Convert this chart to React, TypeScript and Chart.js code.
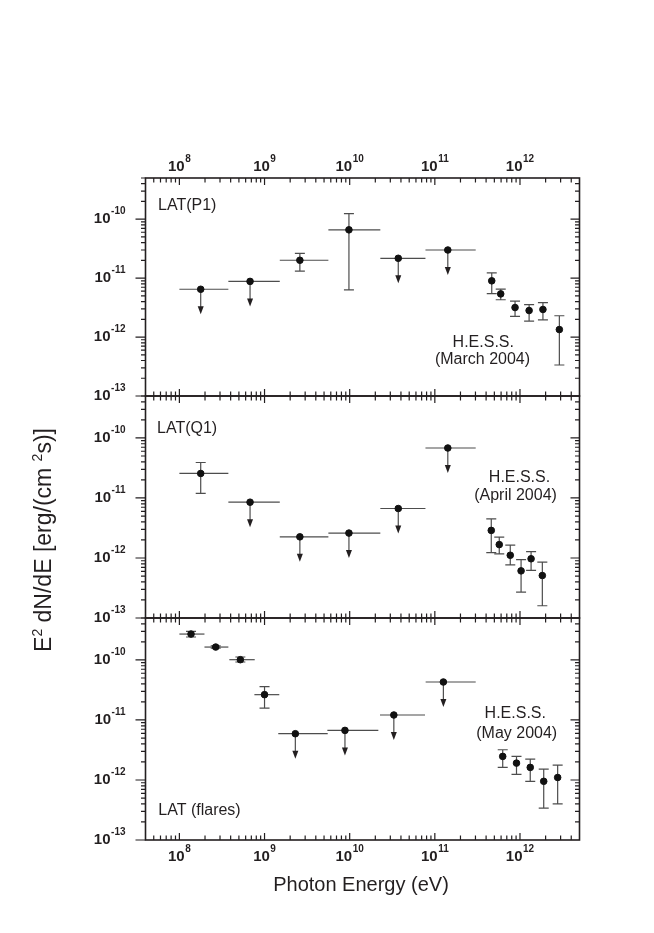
import React, { useEffect, useRef } from 'react';
import { Chart, registerables } from 'chart.js';

Chart.register(...registerables);

const W = 654;
const H = 933;

// ---------- axes ----------
const xMinE = 4e7;
const xMaxE = 5e12;
const yMinF = 1e-13;
const yMaxF = 5e-10;
const xDecades = [8, 9, 10, 11, 12];
const yDecades = [-13, -12, -11, -10];

// ---------- LAT energy bins (P1 and Q1) ----------
const latE = [1.78e8, 6.76e8, 2.6e9, 9.8e9, 3.72e10, 1.42e11];
const latBinLo = [1.0e8, 3.76e8, 1.51e9, 5.62e9, 2.29e10, 7.76e10];
const latBinHi = [3.76e8, 1.51e9, 5.62e9, 2.29e10, 7.76e10, 3.02e11];

// ---------- Panel 1: LAT(P1) + H.E.S.S. March 2004 ----------
const p1Flux = [6.47e-12, 8.8e-12, 2.01e-11, 6.6e-11, 2.17e-11, 3.0e-11];
const p1ErrLo = [null, null, 1.31e-11, 6.3e-12, null, null];
const p1ErrHi = [null, null, 2.64e-11, 1.24e-10, null, null];
const p1Upper = [true, true, false, false, true, true];

const hessMarE = [4.66e11, 5.94e11, 8.75e11, 1.28e12, 1.86e12, 2.9e12];
const hessMarFlux = [9.0e-12, 5.4e-12, 3.17e-12, 2.82e-12, 2.94e-12, 1.34e-12];
const hessMarLo = [5.46e-12, 4.3e-12, 2.24e-12, 1.87e-12, 1.95e-12, 3.36e-13];
const hessMarHi = [1.23e-11, 6.5e-12, 4.06e-12, 3.56e-12, 3.85e-12, 2.3e-12];

// ---------- Panel 2: LAT(Q1) + H.E.S.S. April 2004 ----------
const q1Flux = [2.56e-11, 8.5e-12, 2.25e-12, 2.6e-12, 6.67e-12, 6.8e-11];
const q1ErrLo = [1.19e-11, null, null, null, null, null];
const q1ErrHi = [3.9e-11, null, null, null, null, null];
const q1Upper = [false, true, true, true, true, true];

const hessAprE = [4.6e11, 5.71e11, 7.69e11, 1.03e12, 1.35e12, 1.83e12];
const hessAprFlux = [2.88e-12, 1.67e-12, 1.11e-12, 6.1e-13, 9.7e-13, 5.1e-13];
const hessAprLo = [1.23e-12, 1.17e-12, 7.7e-13, 2.7e-13, 6.2e-13, 1.6e-13];
const hessAprHi = [4.48e-12, 2.23e-12, 1.64e-12, 9.4e-13, 1.28e-12, 8.5e-13];

// ---------- Panel 3: LAT (flares) + H.E.S.S. May 2004 ----------
const flareE = [1.37e8, 2.67e8, 5.2e8, 1.0e9, 2.3e9, 8.8e9, 3.3e10, 1.26e11];
const flareBinLo = [1.0e8, 1.97e8, 3.86e8, 7.6e8, 1.45e9, 5.47e9, 2.27e10, 7.8e10];
const flareBinHi = [1.97e8, 3.76e8, 7.67e8, 1.49e9, 5.52e9, 2.17e10, 7.67e10, 3.02e11];
const flareFlux = [2.7e-10, 1.64e-10, 1.01e-10, 2.64e-11, 5.9e-12, 6.7e-12, 1.21e-11, 4.29e-11];
const flareErrLo = [2.41e-10, 1.57e-10, 9.25e-11, 1.58e-11, null, null, null, null];
const flareErrHi = [2.99e-10, 1.71e-10, 1.12e-10, 3.6e-11, null, null, null, null];
const flareUpper = [false, false, false, false, true, true, true, true];

const hessMayE = [6.27e11, 9.1e11, 1.32e12, 1.9e12, 2.77e12];
const hessMayFlux = [2.47e-12, 1.91e-12, 1.62e-12, 9.5e-13, 1.1e-12];
const hessMayLo = [1.62e-12, 1.24e-12, 9.5e-13, 3.4e-13, 4.0e-13];
const hessMayHi = [3.19e-12, 2.47e-12, 2.23e-12, 1.52e-12, 1.77e-12];

// ---------- styles ----------
const FONT = '"Liberation Sans", Arial, Helvetica, sans-serif';
const INK = '#231f20';
const BAR = '#4d4d4d';
const FRAME_L = 145.5;
const FRAME_R = 579.5;

function buildLogTicks(min: number, max: number, decades: number[]) {
  const ticks: { value: number; major: boolean }[] = [];
  for (let e = decades[0] - 1; e <= decades[decades.length - 1]; e++) {
    for (let m = 1; m <= 9; m++) {
      const v = m * Math.pow(10, e);
      if (v >= min * 0.9999 && v <= max * 1.0001) ticks.push({ value: v, major: m === 1 });
    }
  }
  return ticks;
}

function drawPow(ctx: CanvasRenderingContext2D, exp: number, x: number, y: number, align: 'center' | 'right') {
  const base = '10';
  const sup = String(exp);
  ctx.font = `bold 15px ${FONT}`;
  const wb = ctx.measureText(base).width;
  ctx.font = `bold 10px ${FONT}`;
  const ws = ctx.measureText(sup).width;
  const total = wb + 0.5 + ws;
  const left = align === 'center' ? x - total / 2 : x - total;
  ctx.textAlign = 'left';
  ctx.textBaseline = 'middle';
  ctx.font = `bold 15px ${FONT}`;
  ctx.fillText(base, left, y);
  ctx.font = `bold 10px ${FONT}`;
  ctx.fillText(sup, left + wb + 0.5, y - 7.5);
}

const decorPlugin = {
  id: 'panelDecor',
  beforeDatasetsDraw(chart: any) {
    const ctx: CanvasRenderingContext2D = chart.ctx;
    const xs = chart.scales.x;
    const ys = chart.scales.y;
    ctx.save();
    ctx.lineWidth = 1.2;
    ctx.strokeStyle = BAR;
    ctx.fillStyle = INK;
    chart.data.datasets.forEach((ds: any) => {
      ds.data.forEach((pt: any, i: number) => {
        const px = xs.getPixelForValue(pt.x);
        const py = ys.getPixelForValue(pt.y);
        if (ds.binLo) {
          ctx.beginPath();
          ctx.moveTo(xs.getPixelForValue(ds.binLo[i]), py);
          ctx.lineTo(xs.getPixelForValue(ds.binHi[i]), py);
          ctx.stroke();
        }
        if (ds.errLo && ds.errLo[i] != null) {
          const yl = ys.getPixelForValue(ds.errLo[i]);
          const yh = ys.getPixelForValue(ds.errHi[i]);
          const cw = 5;
          ctx.beginPath();
          ctx.moveTo(px, yh);
          ctx.lineTo(px, yl);
          ctx.moveTo(px - cw, yh);
          ctx.lineTo(px + cw, yh);
          ctx.moveTo(px - cw, yl);
          ctx.lineTo(px + cw, yl);
          ctx.stroke();
        }
        if (ds.upper && ds.upper[i]) {
          const len = 25;
          const tip = py + len;
          ctx.beginPath();
          ctx.moveTo(px, py);
          ctx.lineTo(px, tip - 6);
          ctx.stroke();
          ctx.beginPath();
          ctx.moveTo(px, tip);
          ctx.lineTo(px - 3, tip - 8);
          ctx.lineTo(px + 3, tip - 8);
          ctx.closePath();
          ctx.fill();
        }
      });
    });
    ctx.restore();
  },
  afterDraw(chart: any, _args: any, opts: any) {
    const ctx: CanvasRenderingContext2D = chart.ctx;
    const xs = chart.scales.x;
    const ys = chart.scales.y;
    const a = chart.chartArea;
    ctx.save();
    ctx.strokeStyle = INK;
    ctx.fillStyle = INK;
    // frame
    ctx.lineWidth = 1.6;
    ctx.strokeRect(a.left, a.top, a.right - a.left, a.bottom - a.top);
    // x ticks (inward, top and bottom)
    ctx.lineWidth = 1.2;
    ctx.beginPath();
    xs.ticks.forEach((t: any) => {
      const px = xs.getPixelForValue(t.value);
      if (px <= a.left + 1 || px >= a.right - 1) return;
      const len = t.major ? 7 : 4.5;
      ctx.moveTo(px, a.bottom);
      ctx.lineTo(px, a.bottom - len);
      ctx.moveTo(px, a.top);
      ctx.lineTo(px, a.top + len);
    });
    // y ticks (outward on left, inward on right)
    ys.ticks.forEach((t: any) => {
      const py = ys.getPixelForValue(t.value);
      const lenL = t.major ? 10 : 4.5;
      const lenR = t.major ? 9 : 4.5;
      ctx.moveTo(a.left, py);
      ctx.lineTo(a.left - lenL, py);
      if (py > a.top + 1 && py < a.bottom - 1) {
        ctx.moveTo(a.right, py);
        ctx.lineTo(a.right - lenR, py);
      }
    });
    ctx.stroke();
    // y tick labels
    yDecades.forEach((e) => {
      drawPow(ctx, e, a.left - 20, ys.getPixelForValue(Math.pow(10, e)), 'right');
    });
    // x tick labels
    if (opts.topLabels) {
      xDecades.forEach((e) => drawPow(ctx, e, xs.getPixelForValue(Math.pow(10, e)), a.top - 11, 'center'));
    }
    if (opts.bottomLabels) {
      xDecades.forEach((e) => drawPow(ctx, e, xs.getPixelForValue(Math.pow(10, e)), a.bottom + 17, 'center'));
    }
    // panel annotations
    ctx.font = `16px ${FONT}`;
    ctx.textBaseline = 'alphabetic';
    (opts.notes || []).forEach((n: any) => {
      ctx.textAlign = n.align;
      ctx.fillText(n.text, n.x, n.y);
    });
    // axis titles
    if (opts.xTitle) {
      ctx.font = `20px ${FONT}`;
      ctx.textAlign = 'center';
      ctx.fillText(opts.xTitle, (a.left + a.right) / 2 - 1.5, a.bottom + 51);
    }
    if (opts.yTitle) {
      const segs: { t: string; sup: boolean }[] = opts.yTitle;
      const big = `23px ${FONT}`;
      const small = `14px ${FONT}`;
      let total = 0;
      segs.forEach((s) => {
        ctx.font = s.sup ? small : big;
        total += ctx.measureText(s.t).width;
      });
      ctx.translate(opts.yTitleX, opts.yTitleY);
      ctx.rotate(-Math.PI / 2);
      ctx.textAlign = 'left';
      let cx = -total / 2;
      segs.forEach((s) => {
        ctx.font = s.sup ? small : big;
        ctx.fillText(s.t, cx, s.sup ? -9 : 0);
        cx += ctx.measureText(s.t).width;
      });
    }
    ctx.restore();
  },
};

function makeConfig(idx: number) {
  const pts = (xs: number[], ys: number[]) => xs.map((x, i) => ({ x, y: ys[i] }));
  const pointStyle = {
    pointRadius: 3.3,
    pointBackgroundColor: '#111',
    pointBorderColor: '#111',
    pointBorderWidth: 1,
    showLine: false,
  };
  let datasets: any[] = [];
  let top = 178;
  let bottom = 396;
  let decor: any = {};
  if (idx === 0) {
    top = 178;
    bottom = 396;
    datasets = [
      { label: 'LAT(P1)', data: pts(latE, p1Flux), binLo: latBinLo, binHi: latBinHi, errLo: p1ErrLo, errHi: p1ErrHi, upper: p1Upper, ...pointStyle },
      { label: 'H.E.S.S. March 2004', data: pts(hessMarE, hessMarFlux), errLo: hessMarLo, errHi: hessMarHi, ...pointStyle },
    ];
    decor = {
      topLabels: true,
      notes: [
        { text: 'LAT(P1)', x: 158, y: 210, align: 'left' },
        { text: 'H.E.S.S.', x: 483.3, y: 346.5, align: 'center' },
        { text: '(March 2004)', x: 482.5, y: 364, align: 'center' },
      ],
    };
  } else if (idx === 1) {
    top = 396;
    bottom = 618;
    datasets = [
      { label: 'LAT(Q1)', data: pts(latE, q1Flux), binLo: latBinLo, binHi: latBinHi, errLo: q1ErrLo, errHi: q1ErrHi, upper: q1Upper, ...pointStyle },
      { label: 'H.E.S.S. April 2004', data: pts(hessAprE, hessAprFlux), errLo: hessAprLo, errHi: hessAprHi, ...pointStyle },
    ];
    decor = {
      notes: [
        { text: 'LAT(Q1)', x: 157, y: 433, align: 'left' },
        { text: 'H.E.S.S.', x: 519.5, y: 481.5, align: 'center' },
        { text: '(April 2004)', x: 515.5, y: 499.5, align: 'center' },
      ],
      yTitle: [
        { t: 'E', sup: false },
        { t: '2', sup: true },
        { t: ' dN/dE [erg/(cm ', sup: false },
        { t: '2', sup: true },
        { t: 's)]', sup: false },
      ],
      yTitleX: 51,
      yTitleY: 540,
    };
  } else {
    top = 618;
    bottom = 840;
    datasets = [
      { label: 'LAT (flares)', data: pts(flareE, flareFlux), binLo: flareBinLo, binHi: flareBinHi, errLo: flareErrLo, errHi: flareErrHi, upper: flareUpper, ...pointStyle },
      { label: 'H.E.S.S. May 2004', data: pts(hessMayE, hessMayFlux), errLo: hessMayLo, errHi: hessMayHi, ...pointStyle },
    ];
    decor = {
      bottomLabels: true,
      xTitle: 'Photon Energy (eV)',
      notes: [
        { text: 'LAT (flares)', x: 158.3, y: 815, align: 'left' },
        { text: 'H.E.S.S.', x: 515.3, y: 718, align: 'center' },
        { text: '(May 2004)', x: 516.7, y: 738, align: 'center' },
      ],
    };
  }
  return {
    type: 'scatter' as const,
    data: { datasets },
    plugins: [decorPlugin],
    options: {
      responsive: false,
      animation: false as const,
      events: [],
      layout: { padding: { left: FRAME_L, right: W - FRAME_R, top, bottom: H - bottom } },
      plugins: {
        legend: { display: false },
        tooltip: { enabled: false },
        panelDecor: decor,
      },
      scales: {
        x: {
          type: 'logarithmic' as const,
          min: xMinE,
          max: xMaxE,
          position: 'bottom' as const,
          grid: { display: false, drawTicks: false },
          border: { display: false },
          ticks: { display: false },
          afterBuildTicks: (s: any) => {
            s.ticks = buildLogTicks(xMinE, xMaxE, xDecades);
          },
          afterFit: (s: any) => {
            s.height = 0;
          },
        },
        y: {
          type: 'logarithmic' as const,
          min: yMinF,
          max: yMaxF,
          position: 'left' as const,
          grid: { display: false, drawTicks: false },
          border: { display: false },
          ticks: { display: false },
          afterBuildTicks: (s: any) => {
            s.ticks = buildLogTicks(yMinF, yMaxF, yDecades);
          },
          afterFit: (s: any) => {
            s.width = 0;
          },
        },
      },
    },
  };
}

function Panel({ idx }: { idx: number }) {
  const ref = useRef<HTMLCanvasElement>(null);
  useEffect(() => {
    if (!ref.current) return;
    const chart = new Chart(ref.current, makeConfig(idx) as any);
    return () => chart.destroy();
  }, [idx]);
  return (
    <canvas
      ref={ref}
      width={W}
      height={H}
      style={{ position: 'absolute', left: 0, top: 0, width: W, height: H }}
    />
  );
}

export default function App() {
  return (
    <div style={{ position: 'fixed', left: 0, top: 0, width: W, height: H, background: '#fff', overflow: 'hidden' }}>
      <Panel idx={0} />
      <Panel idx={1} />
      <Panel idx={2} />
    </div>
  );
}
